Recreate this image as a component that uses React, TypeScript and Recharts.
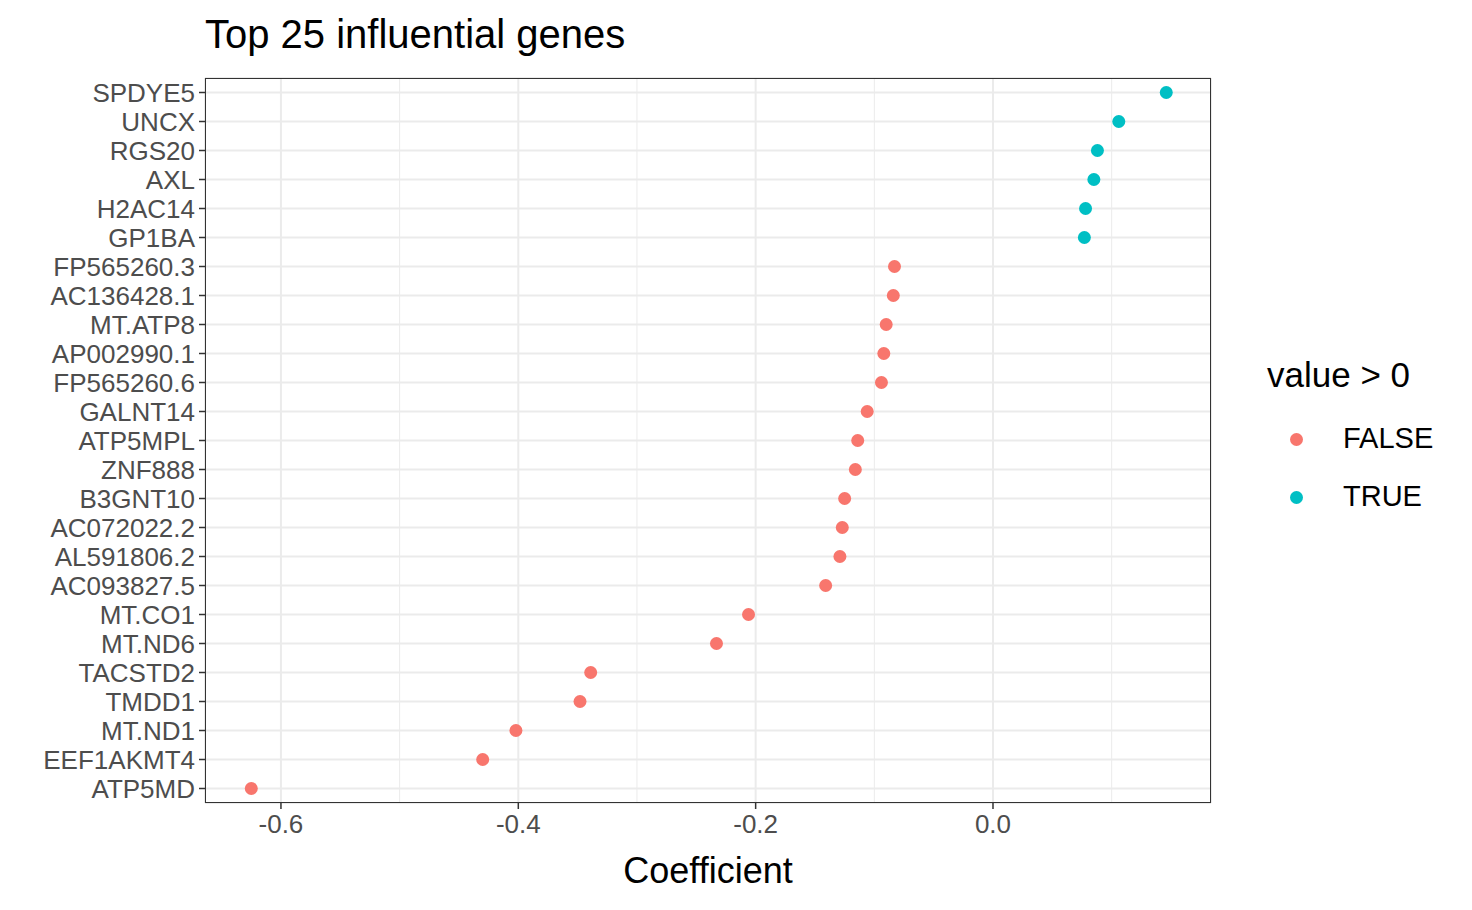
import { ScatterChart, Scatter, XAxis, YAxis, CartesianGrid, ReferenceLine, Cell } from "recharts";

const genes = [
  "SPDYE5", "UNCX", "RGS20", "AXL", "H2AC14", "GP1BA", "FP565260.3", "AC136428.1",
  "MT.ATP8", "AP002990.1", "FP565260.6", "GALNT14", "ATP5MPL", "ZNF888", "B3GNT10",
  "AC072022.2", "AL591806.2", "AC093827.5", "MT.CO1", "MT.ND6", "TACSTD2", "TMDD1",
  "MT.ND1", "EEF1AKMT4", "ATP5MD",
];
const coefs = [
  0.146, 0.106, 0.088, 0.085, 0.078, 0.077, -0.083, -0.084, -0.09, -0.092, -0.094,
  -0.106, -0.114, -0.116, -0.125, -0.127, -0.129, -0.141, -0.206, -0.233, -0.339,
  -0.348, -0.402, -0.43, -0.625,
];
const xTicks = [-0.6, -0.4, -0.2, 0.0];
const minorTicks = [-0.5, -0.3, -0.1, 0.1];

const data = genes.map((gene, i) => ({ gene, value: coefs[i] }));
const font = "Liberation Sans, Arial, sans-serif";
const RED = "#F8766D";
const TEAL = "#00BFC4";

export default function App() {
  return (
    <div style={{ position: "absolute", left: 0, top: 0, width: 1472, height: 910, background: "#fff", fontFamily: font }}>
      <div style={{ position: "absolute", left: 205, top: 12, fontSize: 40, color: "#000" }}>Top 25 influential genes</div>
      <ScatterChart width={1472} height={910} margin={{ top: 78, right: 261, bottom: 0, left: 10 }}>
        <CartesianGrid stroke="#ebebeb" strokeWidth={2} />
        {minorTicks.map((t) => (
          <ReferenceLine key={t} x={t} stroke="#ebebeb" strokeWidth={1} />
        ))}
        <XAxis
          type="number"
          dataKey="value"
          domain={[-0.664, 0.1837]}
          ticks={xTicks}
          tickFormatter={(v: number) => v.toFixed(1)}
          height={107}
          tick={{ fill: "#4d4d4d", fontSize: 26, fontFamily: font }}
          tickLine={{ stroke: "#333", strokeWidth: 1.5 }}
          tickSize={6}
          tickMargin={6}
          axisLine={false}
          label={{ value: "Coefficient", position: "insideTop", offset: 54, fill: "#000", fontSize: 36, fontFamily: font }}
        />
        <YAxis
          type="category"
          dataKey="gene"
          ticks={genes}
          reversed
          width={195}
          tick={{ fill: "#4d4d4d", fontSize: 26, fontFamily: font }}
          tickLine={{ stroke: "#333", strokeWidth: 1.5 }}
          tickSize={6}
          tickMargin={4}
          axisLine={false}
          interval={0}
        />
        <Scatter
          data={data}
          isAnimationActive={false}
          shape={(p: any) => <circle cx={p.cx} cy={p.cy} r={6.5} fill={p.fill} />}
        >
          {data.map((d, i) => (
            <Cell key={i} fill={d.value > 0 ? TEAL : RED} />
          ))}
        </Scatter>
      </ScatterChart>
      <div style={{ position: "absolute", left: 205, top: 78, width: 1006, height: 725, border: "1.5px solid #333", boxSizing: "border-box", pointerEvents: "none" }} />
      <div style={{ position: "absolute", left: 1267, top: 355, fontSize: 35, color: "#000" }}>value &gt; 0</div>
      {[{ l: "FALSE", c: RED, y: 439 }, { l: "TRUE", c: TEAL, y: 497 }].map((it) => (
        <div key={it.l}>
          <div style={{ position: "absolute", left: 1290, top: it.y - 6.5, width: 13, height: 13, borderRadius: "50%", background: it.c }} />
          <div style={{ position: "absolute", left: 1343, top: it.y - 17, fontSize: 29, color: "#000" }}>{it.l}</div>
        </div>
      ))}
    </div>
  );
}
